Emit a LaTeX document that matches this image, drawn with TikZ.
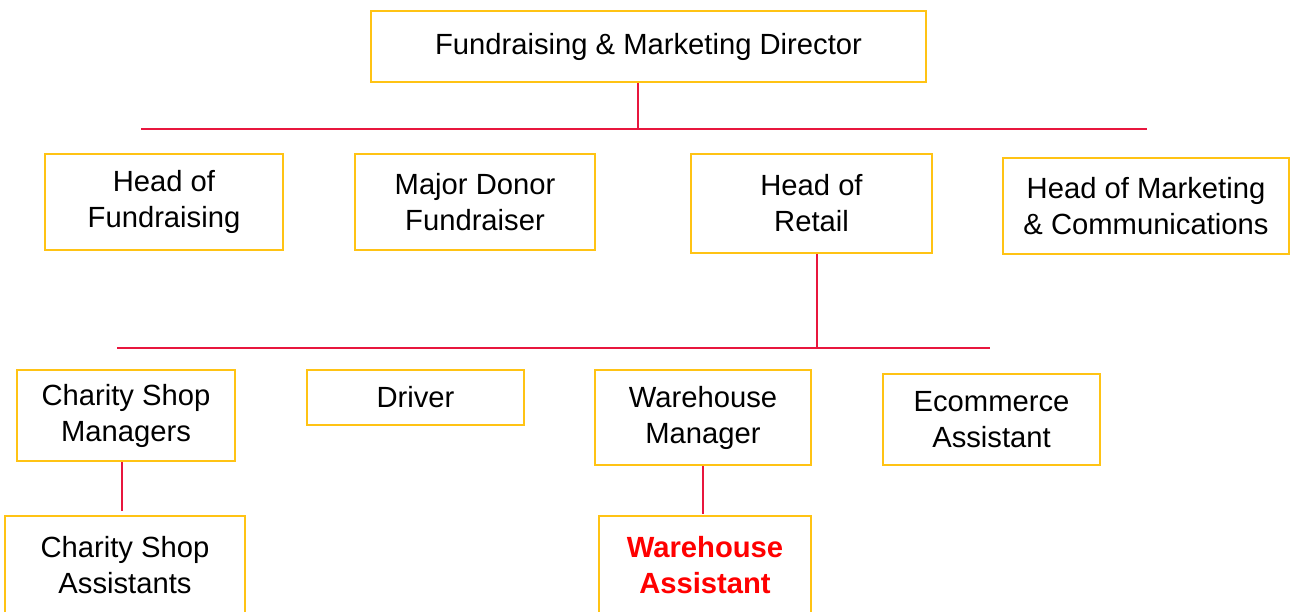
\documentclass[tikz,border=0pt]{standalone}
\usepackage{fontspec}
\setmainfont{Liberation Sans}
\usetikzlibrary{calc}
\definecolor{boxgold}{RGB}{255,195,20}
\definecolor{linkred}{RGB}{232,22,62}
\newcommand{\postfont}{\fontsize{21.9}{27}\selectfont}

\begin{document}
\begin{tikzpicture}[x=0.75pt,y=-0.75pt,
    post/.style={draw=boxgold, line width=1.5pt, fill=white, align=center, inner sep=0pt, font=\postfont},
    size/.style 2 args={minimum width=#1*0.75pt, minimum height=#2*0.75pt},
    link/.style={draw=linkred, line width=1pt}]
    \useasboundingbox (0,0) rectangle (1291,611); % Keeps the page at the reference size
    \clip (0,0) rectangle (1291,611);             % The bottom boxes run off the page

    % Top of the tree
    \node[post, size={555}{71}] (director) at (648.5,46.5) {\raisebox{3pt}{Fundraising \& Marketing Director}};

    % Second row
    \node[post, size={238}{96}] (headfund)   at (164,202)    {Head of\\Fundraising};
    \node[post, size={240}{96}] (donor)      at (475,202)    {Major Donor\\Fundraiser};
    \node[post, size={241}{99}] (headretail) at (811.5,203.5) {Head of\\Retail};
    \node[post, size={286}{96}] (headmark)   at (1146,206)   {Head of Marketing\\\& Communications};

    % Third row, under retail
    \node[post, size={218}{91}] (shopmgr) at (126,415.5)   {Charity Shop\\Managers};
    \node[post, size={217}{55}] (driver)  at (415.5,397.5) {Driver};
    \node[post, size={216}{95}] (whmgr)   at (703,417.5)   {Warehouse\\Manager};
    \node[post, size={217}{91}] (ecom)    at (991.5,419.5) {Ecommerce\\Assistant};

    % Bottom row
    \node[post, size={240}{98}] (shopasst) at (125,565) {Charity Shop\\Assistants};
    \node[post, size={212}{98}, text=red, font=\postfont\bfseries] (whasst) at (705,565) {Warehouse\\Assistant};

    % Bus lines and drops
    \coordinate (bus1w) at (141,129);
    \coordinate (bus1e) at (1147,129);
    \coordinate (dirtap) at (638,129);
    \coordinate (bus2w) at (117,348);
    \coordinate (bus2e) at (990,348);
    \coordinate (retailtap) at (817,348);
    \coordinate (shoptap) at (122,511);
    \coordinate (whtap) at (703,514);

    \draw[link] (bus1w) -- (bus1e);
    \draw[link] (dirtap |- director.south) -- (dirtap);
    \draw[link] (bus2w) -- (bus2e);
    \draw[link] (retailtap |- headretail.south) -- (retailtap);
    \draw[link] (shoptap |- shopmgr.south) -- (shoptap);
    \draw[link] (whtap |- whmgr.south) -- (whtap);
\end{tikzpicture}
\end{document}
